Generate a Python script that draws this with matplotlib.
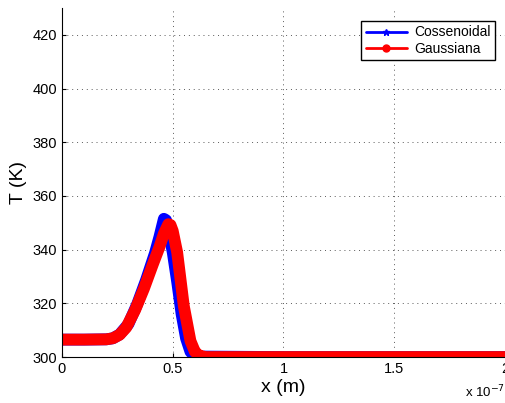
import matplotlib
matplotlib.use("Agg")
import matplotlib.pyplot as plt
from matplotlib.ticker import FuncFormatter

plt.rcParams['font.family'] = ['Liberation Sans', 'DejaVu Sans']

# x in units of 1e-7 m, T in K
x_cos = [0, 0.1, 0.2, 0.23, 0.26, 0.3, 0.34, 0.38, 0.42, 0.44, 0.46, 0.47, 0.48,
         0.5, 0.52, 0.54, 0.56, 0.58, 0.6, 1.0, 1.5, 2.0]
T_cos = [306.5, 306.5, 306.6, 307.0, 308.4, 312.3, 319.8, 328.8, 338.8, 344.8, 351.5,
         351.0, 347.5, 339.0, 328.0, 316.0, 307.0, 302.0, 300.2, 300.0, 300.0, 300.0]

x_gau = [0, 0.1, 0.2, 0.23, 0.26, 0.29, 0.33, 0.37, 0.41, 0.44, 0.46, 0.48, 0.49,
         0.5, 0.52, 0.55, 0.58, 0.6, 0.62, 0.65, 1.0, 1.5, 2.0]
T_gau = [306.5, 306.5, 306.6, 307.0, 308.3, 311.0, 317.5, 325.5, 334.5, 341.0, 346.0,
         349.5, 349.2, 347.0, 339.0, 319.0, 306.0, 302.0, 300.5, 300.0, 300.0, 300.0, 300.0]

fig = plt.figure(figsize=(5.06, 4.03), dpi=100)
ax = fig.add_axes([0.1225, 0.114, 0.8755, 0.866])

scale = 1e-7
ax.plot([v * scale for v in x_cos], T_cos, color='blue', lw=8.5, marker='*', ms=5,
        solid_joinstyle='round', solid_capstyle='round', label='Cossenoidal')
ax.plot([v * scale for v in x_gau], T_gau, color='red', lw=8.5, marker='o', ms=5,
        solid_joinstyle='round', solid_capstyle='round', label='Gaussiana')

ax.set_xlim(0, 2e-7)
ax.set_ylim(300, 430)
ax.set_xticks([0, 0.5e-7, 1e-7, 1.5e-7, 2e-7])
ax.set_yticks([300, 320, 340, 360, 380, 400, 420])
ax.xaxis.set_major_formatter(FuncFormatter(lambda v, p: '%g' % (v / scale)))
ax.tick_params(direction='in', labelsize=10.5, length=3)
ax.grid(True, linestyle=(0, (1, 4)), color='0.35', lw=0.7)
for s in ['top', 'right']:
    ax.spines[s].set_visible(False)

ax.set_xlabel('x (m)', fontsize=14, labelpad=2)
ax.set_ylabel('T (K)', fontsize=14, labelpad=4)
fig.text(0.918, 0.015, r'x 10$^{-7}$', fontsize=9.5)

leg = ax.legend(loc='upper right', fontsize=10, fancybox=False, framealpha=1,
                edgecolor='black', handlelength=3.0, borderpad=0.3,
                labelspacing=0.15, handletextpad=0.5, markerscale=1.0,
                bbox_to_anchor=(0.993, 0.982))
for h in leg.get_lines():
    h.set_linewidth(2)
leg.get_frame().set_linewidth(1.0)

fig.savefig('out.png', dpi=100)
